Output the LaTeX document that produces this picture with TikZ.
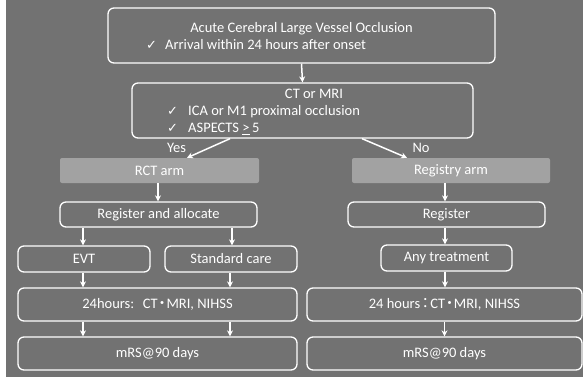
\documentclass[tikz,border=0pt]{standalone}
\usepackage{fontspec}
\setmainfont{Carlito}
\newfontfamily\symfont{DejaVu Sans}
\newfontfamily\cjkfont{Noto Sans CJK JP}
\usetikzlibrary{arrows.meta,calc}
\definecolor{bg}{HTML}{727272}
\definecolor{armfill}{HTML}{A2A2A2}
\newcommand{\chk}{{\symfont\fontsize{13}{13}\selectfont ✓}}
\newcommand{\jdot}{\hspace{-0.2em}{\cjkfont ・}\hspace{-0.2em}}
\newcommand{\jcolon}{\hspace{-0.15em}{\cjkfont ：}\hspace{-0.15em}}
\begin{document}
\begin{tikzpicture}[x=1pt,y=-1pt,
  font=\fontsize{14.5}{16}\selectfont, text=white,
  box/.style={draw=white, line width=1.3pt, rounded corners=6pt, inner sep=0pt},
  armbox/.style={fill=armfill, rounded corners=2pt, inner sep=0pt},
  arr/.style={draw=white, line width=1.5pt, -{Stealth[length=6pt,width=6pt]}},
  lbl/.style={inner sep=0pt}]
\useasboundingbox (0,0) rectangle (583,377);
\fill[white] (0,0) rectangle (583,377);
\fill[bg] (6,0) rectangle (583,377);

% top box
\node[box, minimum width=387pt, minimum height=55pt] (top) at (301.5,35.5) {};
\node[lbl, anchor=base] (toptitle) at (301.5,32.5) {Acute Cerebral Large Vessel Occlusion};
\node[lbl, anchor=base west] (topck) at (146,49.5) {\makebox[19pt][l]{\chk}Arrival within 24 hours after onset};

% CT box
\node[box, minimum width=341pt, minimum height=55pt] (ct) at (302.5,110.5) {};
\node[lbl, anchor=base] (cttitle) at (314,99) {CT or MRI};
\node[lbl, anchor=base west] (ctck1) at (167,115) {\makebox[21pt][l]{\chk}ICA or M1 proximal occlusion};
\node[lbl, anchor=base west] (ctck2) at (167,132.5) {\makebox[21pt][l]{\chk}ASPECTS \underline{>}\,5};

% arms
\node[armbox, minimum width=199pt, minimum height=25pt] (rct) at (159.5,170.5) {RCT arm};
\node[armbox, minimum width=198pt, minimum height=25pt] (reg) at (451,170.5) {Registry arm};
\node[lbl, anchor=base] (yes) at (176.5,152) {Yes};
\node[lbl, anchor=base] (no) at (421,152) {No};

% register boxes
\node[box, minimum width=197pt, minimum height=25pt] (alloc) at (158.5,214.5) {Register and allocate};
\node[box, minimum width=197pt, minimum height=25pt] (register) at (446.5,214.5) {Register};

% treatment boxes
\node[box, minimum width=132pt, minimum height=26pt] (evt) at (84,259) {EVT};
\node[box, minimum width=132pt, minimum height=26pt] (std) at (231,259) {Standard care};
\node[box, minimum width=131pt, minimum height=26pt] (any) at (446.5,258) {Any treatment};

% 24 hours boxes
\node[box, minimum width=279pt, minimum height=33pt] (hl) at (157.5,304.5) {24hours:\hspace{0.6em}CT\jdot MRI, NIHSS};
\node[box, minimum width=275pt, minimum height=33pt] (hr) at (444.5,304.5) {24 hours\jcolon CT\jdot MRI, NIHSS};

% mRS boxes
\node[box, minimum width=279pt, minimum height=33pt] (ml) at (157.5,353.5) {mRS@90 days};
\node[box, minimum width=275pt, minimum height=33pt] (mr) at (444.5,353.5) {mRS@90 days};

% connectors
\draw[arr] (top.south) -- (ct.north);
\draw[arr] ($(ct.south)+(-72.5,0)$) -- ($(rct.north)+(27.5,0)$);
\draw[arr] ($(ct.south)+(59.5,0)$) -- ($(reg.north)+(-44,0)$);
\draw[arr] ($(rct.south)+(-1.5,0)$) -- ($(alloc.north)+(-0.5,0)$);
\draw[arr] ($(reg.south)+(-6,0)$) -- ($(register.north)+(-1.5,0)$);
\draw[arr] ($(alloc.south)+(-75.5,0)$) -- ($(evt.north)+(-1,0)$);
\draw[arr] ($(alloc.south)+(73.5,0)$) -- ($(std.north)+(1,0)$);
\draw[arr] ($(register.south)+(-1.5,0)$) -- ($(any.north)+(-1.5,0)$);
\draw[arr] ($(evt.south)+(-1,0)$) -- ($(hl.north)+(-74.5,0)$);
\draw[arr] ($(std.south)+(-1,0)$) -- ($(hl.north)+(72.5,0)$);
\draw[arr] ($(any.south)+(-1.5,0)$) -- ($(hr.north)+(0.5,0)$);
\draw[arr] ($(hl.south)+(-74.5,0)$) -- ($(ml.north)+(-74.5,0)$);
\draw[arr] ($(hl.south)+(72.5,0)$) -- ($(ml.north)+(72.5,0)$);
\draw[arr] (hr.south) -- (mr.north);
\end{tikzpicture}
\end{document}
